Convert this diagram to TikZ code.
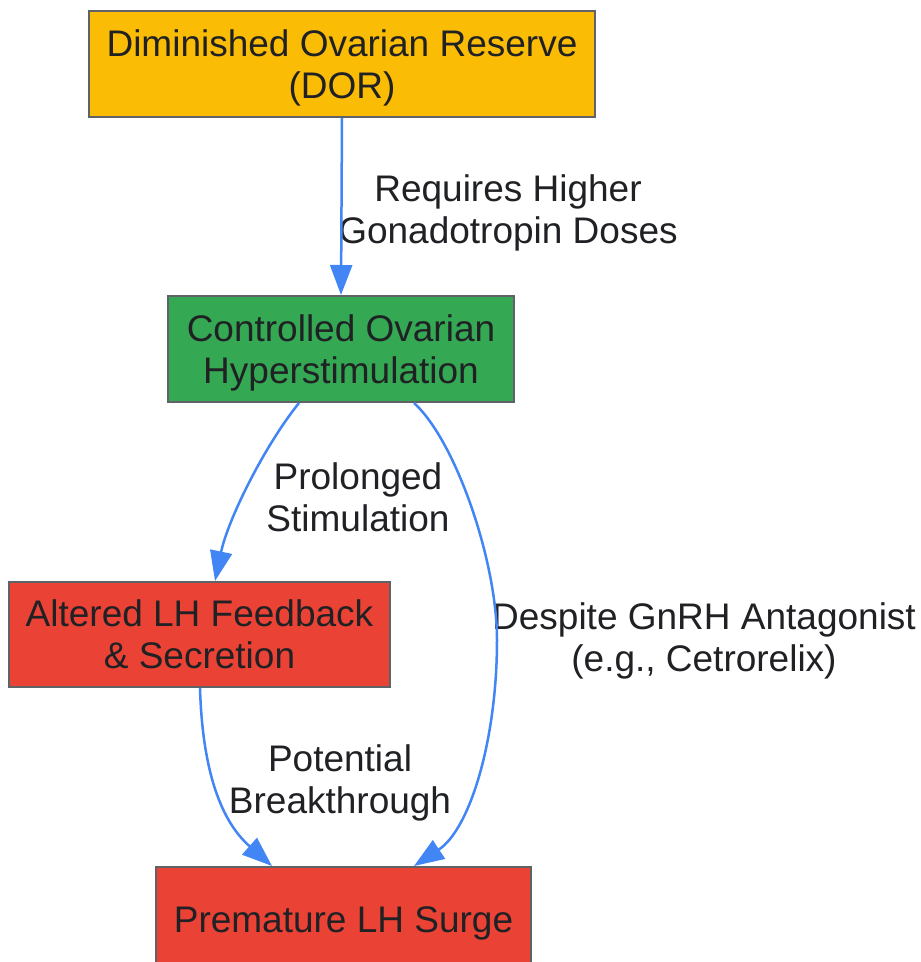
\documentclass[tikz,border=0pt]{standalone}
\usepackage{fontspec}
\setmainfont{Liberation Sans}
\usetikzlibrary{arrows.meta}
\definecolor{gyellow}{HTML}{FBBC05}
\definecolor{ggreen}{HTML}{34A853}
\definecolor{gred}{HTML}{EA4335}
\definecolor{gborder}{HTML}{5F6368}
\definecolor{gblue}{HTML}{4285F4}
\definecolor{gtext}{HTML}{202124}
\tikzset{
  box/.style={draw=gborder, line width=2pt, inner sep=0pt, align=center, text=gtext,
    text depth=0pt, font=\fontsize{37}{42}\selectfont},
  lbl/.style={inner sep=0pt, align=center, text=gtext, font=\fontsize{37}{42}\selectfont},
  conn/.style={draw=gblue, line width=2.5pt, -{Triangle[length=30pt,width=22pt]}}
}
\begin{document}
\begin{tikzpicture}[x=1pt,y=-1pt]
\clip (0,0) rectangle (921,962);
\fill[white] (0,0) rectangle (921,962);
\node[box, fill=gyellow, minimum width=506pt, minimum height=106pt] (dor) at (342,64) {Diminished Ovarian Reserve\\(DOR)};
\node[box, fill=ggreen, minimum width=346pt, minimum height=106pt] (coh) at (341,349) {Controlled Ovarian\\Hyperstimulation};
\node[box, fill=gred, minimum width=381pt, minimum height=105pt] (alt) at (199.5,634.5) {Altered LH Feedback\\\& Secretion};
\node[box, fill=gred, minimum width=375pt, minimum height=106pt] (pre) at (343.5,920) {Premature LH Surge};

\node[lbl] (l1) at (508,213) {Requires Higher\\Gonadotropin Doses};
\node[lbl] (l2) at (358,497) {Prolonged\\Stimulation};
\node[lbl] (l3) at (704,641) {Despite GnRH Antagonist\\(e.g., Cetrorelix)};
\node[lbl] (l4) at (340,783) {Potential\\Breakthrough};

\draw[conn] (dor.south) -- (coh.north);
\draw[conn] ([xshift=-42pt]coh.south) .. controls +(-34,42) and +(13,-62) .. ([xshift=15.5pt]alt.north);
\draw[conn] ([xshift=0.5pt]alt.south) .. controls +(3,102) and +(-42,-37) .. ([xshift=-71.5pt]pre.north);
\draw[conn] ([xshift=73pt]coh.south) .. controls +(41,37) and +(0,-80) .. (497,640)
  .. controls +(0,100) and +(56,-37) .. ([xshift=70.5pt]pre.north);
\end{tikzpicture}
\end{document}
